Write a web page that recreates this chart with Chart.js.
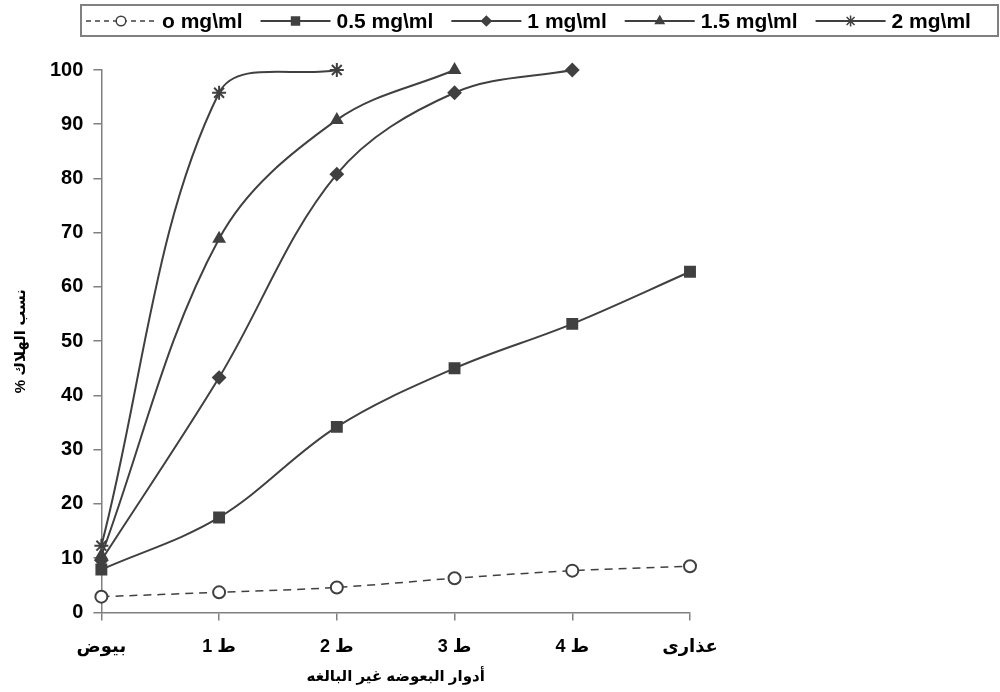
<!DOCTYPE html>
<html>
<head>
<meta charset="utf-8">
<script src="https://cdn.jsdelivr.net/npm/chart.js"></script>
<style>
  body { margin: 0; background: #fff; }
  #wrap { width: 1000px; height: 692px; }
</style>
</head>
<body>
<div id="wrap"><canvas id="chart" width="1000" height="692"></canvas></div>
<script>
const stages = ['بيوض', 'ط 1', 'ط 2', 'ط 3', 'ط 4', 'عذارى'];
const dose0 = [2.9, 3.7, 4.6, 6.3, 7.7, 8.5];
const dose05 = [7.9, 17.5, 34.2, 45, 53.2, 62.8];
const dose1 = [9.6, 43.3, 80.8, 95.8, 100];
const dose15 = [10.5, 68.9, 90.8, 100];
const dose2 = [12.3, 95.8, 100];
const yTicks = [0, 10, 20, 30, 40, 50, 60, 70, 80, 90, 100];

const lineColor = '#404040';
const axisColor = '#808080';
const font = 'Arial, "Liberation Sans", "DejaVu Sans", sans-serif';

function series(label, data, style, radius, filled, dash) {
  return {
    label: label,
    data: data,
    borderColor: lineColor,
    backgroundColor: filled ? lineColor : '#ffffff',
    borderWidth: dash ? 1.5 : 2,
    borderDash: dash || [],
    pointStyle: style,
    pointRadius: radius,
    pointBorderWidth: 2,
    pointBorderColor: lineColor,
    pointBackgroundColor: filled ? lineColor : '#ffffff',
    tension: 0.35,
    fill: false,
    clip: false
  };
}

// legend drawn in a framed box above the plot
const boxLegend = {
  id: 'boxLegend',
  afterDraw(chart) {
    const ctx = chart.ctx;
    ctx.save();
    ctx.strokeStyle = axisColor;
    ctx.lineWidth = 2;
    ctx.strokeRect(81, 5, 917, 31);
    ctx.font = 'bold 21px ' + font;
    ctx.textBaseline = 'middle';
    let x = 86;
    const y = 21;
    chart.data.datasets.forEach(ds => {
      ctx.strokeStyle = lineColor;
      ctx.lineWidth = ds.borderWidth;
      ctx.setLineDash(ds.borderDash.length ? [5, 4] : []);
      ctx.beginPath();
      ctx.moveTo(x, y);
      ctx.lineTo(x + 70, y);
      ctx.stroke();
      ctx.setLineDash([]);
      ctx.fillStyle = ds.pointBackgroundColor;
      ctx.strokeStyle = lineColor;
      ctx.lineWidth = 1.5;
      if (Chart.helpers && Chart.helpers.drawPoint) {
        Chart.helpers.drawPoint(ctx, { pointStyle: ds.pointStyle, radius: ds.pointRadius * 0.8, rotation: 0, borderWidth: 1.5 }, x + 35, y);
      }
      ctx.fillStyle = '#000';
      ctx.fillText(ds.label, x + 76, y + 1);
      x += 76 + ctx.measureText(ds.label).width + 18;
    });
    ctx.restore();
  }
};

new Chart(document.getElementById('chart'), {
  type: 'line',
  data: {
    labels: stages,
    datasets: [
      series('o mg\\ml', dose0, 'circle', 6, false, [8, 6]),
      series('0.5 mg\\ml', dose05, 'rect', 7, true),
      series('1 mg\\ml', dose1, 'rectRot', 6, true),
      series('1.5 mg\\ml', dose15, 'triangle', 6, true),
      series('2 mg\\ml', dose2, 'star', 7, false)
    ]
  },
  options: {
    responsive: false,
    animation: false,
    elements: { line: { capBezierPoints: false } },
    layout: { padding: { left: 8, right: 310, top: 70, bottom: 6 } },
    plugins: {
      legend: { display: false },
      tooltip: { enabled: false }
    },
    scales: {
      x: {
        offset: false,
        border: { color: axisColor, width: 1.5 },
        grid: { drawOnChartArea: false, color: axisColor, tickLength: 8, lineWidth: 1.5 },
        ticks: { color: '#000', font: { family: font, size: 18, weight: 'bold' }, padding: 16, maxRotation: 0 },
        title: { display: true, text: 'أدوار البعوضه غير البالغه', color: '#000', font: { family: font, size: 15, weight: 'bold' }, padding: { top: -6, bottom: 0 } }
      },
      y: {
        min: 0,
        max: 100,
        afterBuildTicks(axis) { axis.ticks = yTicks.map(v => ({ value: v })); },
        border: { color: axisColor, width: 1.5 },
        grid: { drawOnChartArea: false, color: axisColor, tickLength: 8, lineWidth: 1.5 },
        ticks: { color: '#000', font: { family: font, size: 20, weight: 'bold' }, padding: 10 },
        title: { display: true, text: '% نسب الهلاك', color: '#000', font: { family: font, size: 15, weight: 'bold' }, padding: { bottom: 10 } }
      }
    }
  },
  plugins: [boxLegend]
});
</script>
</body>
</html>
